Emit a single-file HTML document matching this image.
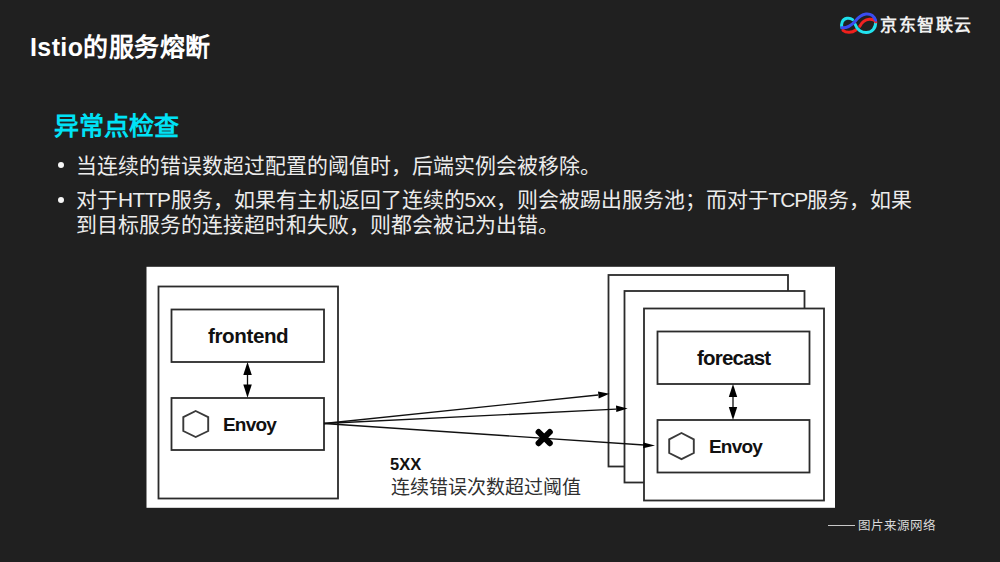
<!DOCTYPE html>
<html lang="zh-CN"><head><meta charset="utf-8">
<style>
html,body{margin:0;padding:0;}
body{width:1000px;height:562px;overflow:hidden;background:#202020;position:relative;font-family:"Liberation Sans",sans-serif;color:#fff;}
.abs{position:absolute;white-space:nowrap;}
#title{left:30px;top:33px;letter-spacing:0.4px;font-size:25px;font-weight:bold;line-height:28px;}
#sub{left:54px;top:111px;font-size:25px;font-weight:bold;color:#00e2f6;line-height:30px;}
.b{font-size:20.9px;line-height:25px;color:#ececec;}
.la{letter-spacing:-0.5px;}
.lb{letter-spacing:-1.1px;}
.dot{position:absolute;width:6px;height:6px;border-radius:50%;background:#f6f6f6;}
#logo-t{left:880px;top:15px;font-size:17px;letter-spacing:1.6px;font-weight:bold;line-height:22px;color:#f0f0f0;}
#cap{left:858px;top:518px;font-size:12.5px;line-height:16px;color:#dadada;}
#capline{position:absolute;left:828px;top:525px;width:27px;height:1px;background:#c8c8c8;}
</style></head><body>
<div class="abs" id="title">Istio的服务熔断</div>
<svg class="abs" style="left:0;top:0" width="1000" height="60" viewBox="0 0 1000 60">
 <g fill="none" stroke-width="3" stroke-linecap="round">
  <path d="M852.6,19.6 C849.5,17.2 844,17.8 842.2,22 C841.2,24.5 841.5,26.5 842,27.8" stroke="#1ee0ec"/>
  <path d="M843,30.4 C846,33 852,33 855.8,30" stroke="#f0201c"/>
  <path d="M855.3,24.6 C857,30 862,32.8 866.5,32.6 C872,32.2 876,28 875.6,22" stroke="#22e2ee"/>
  <path d="M859.8,26.2 C862,22 865,19.5 869.2,19.2 C872.5,19 875,20 875.8,21.8" stroke="#ee2222"/>
  <path d="M841.9,27.8 C846,28 851,26 855,21.5 C858,17.5 861.5,14.5 866,14 C870.5,13.6 874,16 875.6,20.3" stroke="#3a4cf0"/>
 </g>
</svg>
<div class="abs" id="logo-t">京东智联云</div>
<div class="abs" id="sub">异常点检查</div>
<div class="dot" style="left:58px;top:162px"></div>
<div class="abs b" style="left:76px;top:153px">当连续的错误数超过配置的阈值时，后端实例会被移除。</div>
<div class="dot" style="left:58px;top:197px"></div>
<div class="abs b" style="left:76px;top:187px">对于<span class="la">HTTP</span>服务，如果有主机返回了连续的<span class="la">5xx</span>，则会被踢出服务池；而对于<span class="lb">TCP</span>服务，如果</div>
<div class="abs b" style="left:76px;top:212px">到目标服务的连接超时和失败，则都会被记为出错。</div>

<svg class="abs" style="left:0;top:0" width="1000" height="562" viewBox="0 0 1000 562">
 <rect x="146.5" y="266.8" width="688.5" height="241" fill="#fff"/>
 <g fill="#fff" stroke="#2b2b2b" stroke-width="1.8">
  <rect x="158.5" y="286.5" width="179.5" height="212"/>
  <rect x="171.5" y="309.5" width="152.5" height="52.5"/>
  <rect x="171.5" y="398" width="152.5" height="52"/>
  <rect x="608.5" y="275" width="179.5" height="191.5"/>
  <rect x="624.5" y="291" width="180" height="191.5"/>
  <rect x="644" y="308.5" width="180" height="192"/>
  <rect x="657.5" y="331.5" width="152" height="52.5"/>
  <rect x="657.5" y="420" width="152" height="52.5"/>
 </g>
 <g fill="none" stroke="#3a3a3a" stroke-width="1.9">
  <polygon points="195.7,411 208.2,417.2 208.2,431 195.7,437 183.3,431 183.3,417.2"/>
  <polygon points="681.5,433 693.8,439.3 693.8,453 681.5,459.2 669.2,453 669.2,439.3"/>
 </g>
 <g stroke="#111" stroke-width="1.3" fill="none">
  <line x1="247.5" y1="372" x2="247.5" y2="388"/>
  <line x1="733" y1="394" x2="733" y2="410"/>
  <line x1="324" y1="423.5" x2="598" y2="395"/>
  <line x1="324" y1="423.5" x2="616" y2="409.2"/>
  <line x1="324" y1="423.5" x2="644" y2="445"/>
 </g>
 <g fill="#000">
  <polygon points="247.5,362 243.3,375 251.8,375"/>
  <polygon points="247.5,397.7 243.3,384.5 251.8,384.5"/>
  <polygon points="733,384 728.8,397 737.2,397"/>
  <polygon points="733,420 728.8,407 737.2,407"/>
  <polygon points="609.5,393.7 598,391.5 598.7,398.4"/>
  <polygon points="627.7,408.6 616,405.5 616.3,412"/>
  <polygon points="655,445.4 643.4,442.5 643.2,448.2"/>
 </g>
 <g stroke="#000" stroke-width="6" stroke-linecap="round">
  <line x1="538.6" y1="432" x2="549.8" y2="443.2"/>
  <line x1="549.8" y1="432" x2="538.6" y2="443.2"/>
 </g>
</svg>
<div class="abs" style="left:208px;top:323.5px;font-size:20.6px;letter-spacing:-0.4px;font-weight:bold;color:#111;line-height:24px">frontend</div>
<div class="abs" style="left:223px;top:414px;letter-spacing:-0.8px;font-size:19px;font-weight:bold;color:#111;line-height:22px">Envoy</div>
<div class="abs" style="left:697px;top:346px;font-size:20.5px;letter-spacing:-0.8px;font-weight:bold;color:#111;line-height:24px">forecast</div>
<div class="abs" style="left:709px;top:436px;letter-spacing:-0.8px;font-size:19px;font-weight:bold;color:#111;line-height:22px">Envoy</div>
<div class="abs" style="left:390px;top:454px;font-size:16.5px;font-weight:bold;color:#111;line-height:20px">5XX</div>
<div class="abs" style="left:391px;top:477px;font-size:19px;color:#303030;line-height:22px;font-family:'Liberation Serif',serif">连续错误次数超过阈值</div>
<div id="capline"></div>
<div class="abs" id="cap">图片来源网络</div>
</body></html>
